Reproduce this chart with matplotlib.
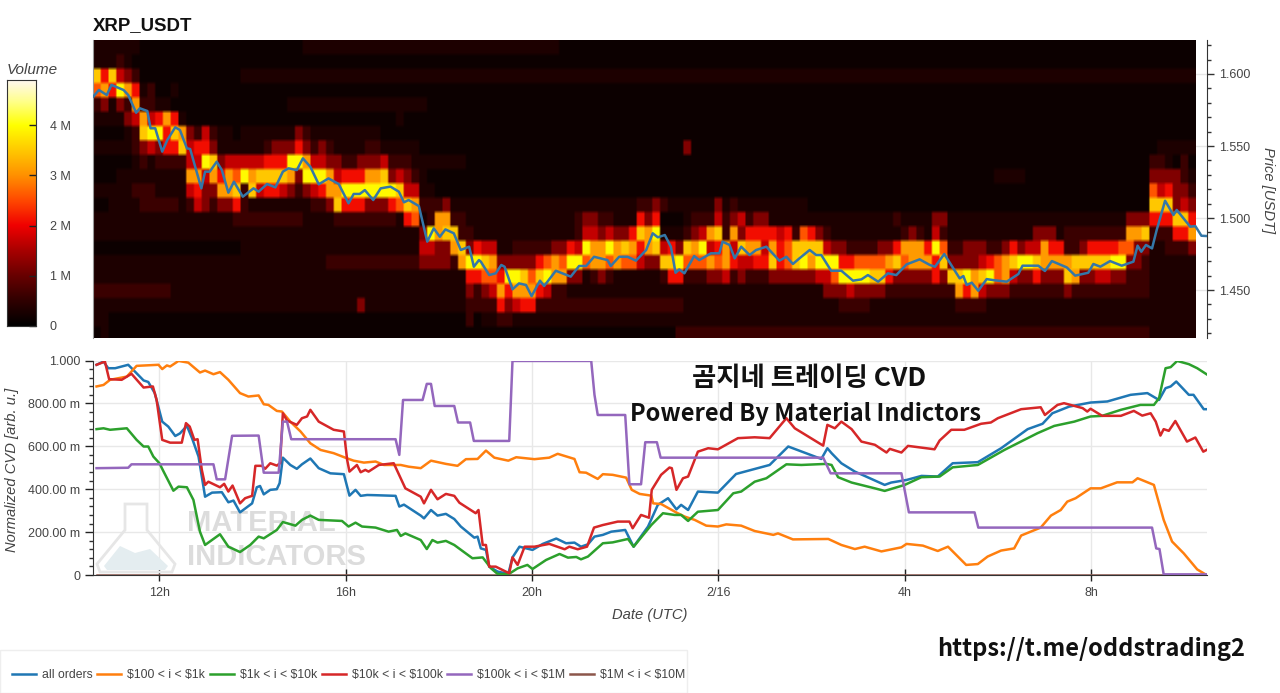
import numpy as np
import matplotlib
matplotlib.use("Agg")
import matplotlib.pyplot as plt
from matplotlib.colors import LinearSegmentedColormap
from matplotlib.patches import Polygon, Rectangle
from matplotlib.ticker import MultipleLocator
from matplotlib.transforms import IdentityTransform

# heatmap: one string per price row (top to bottom), one digit per 10 min column
# digit = volume step, missing columns at the end of a row are 0
volume_rows = [
    "1111110000 0000000000 0000000111 1111111111 1111111111 1111111111",
    "1112100000",
    "8584320000 0000000001 1111111111 1111111111 1111111111 1111111111 1111111111 1111111111 1111111111 1111111111 1111111111 1111111111 1111111111 1111111111 11",
    "6759751200 1000000000",
    "2313272211 0000000000 0000011111 1111111111 1110000000",
    "1111347457 5100000000 0000000000 0000000001",
    "0000128995 8732421101 1111113211 1111111000",
    "1111123435 5845531111 1123335323 2111122111 1100000000 0000000000 0000000000 0000003000 0000000000 0000000000 0000000000 0000000000 0000000000 0000000111 11",
    "0000012122 2244983444 4455599744 3322333422 2111111100 0000000000 0000000000 0000000000 0000000000 0000000000 0000000000 0000000000 0000000000 0000002210 20",
    "0001111111 1177475769 7888873999 7455577834 3210000000 0000000000 0000000000 0000000000 0000000000 0000000000 0000000000 0000001111 0000000000 0000003333 21",
    "1111122211 1145337782 8455432345 7799999998 4411000000 0000000000 0000000000 0000000000 0000000000 0000000000 0000000000 0000000000 0000000000 0000006453 32",
    "0011112222 2124323352 1111111122 3855533356 8722231111 1111111111 1111111111 2232111111 3121111111 1100000000 0000000000 0000000000 0000000000 0000008883 43",
    "1111111111 1111111122 2222222111 1222222221 5612772211 1111111111 1123322111 5350001222 4234233111 1111111111 1112111133 1111111111 1111111111 1113335558 85",
    "1111111111 1111111111 1111111111 1111111111 1139788221 1111111111 1124434335 8791112347 8273555545 2653211111 1111232142 1111111111 1333122222 2227782225 57",
    "0000000000 0000000001 1111111111 1111111111 1144337835 4411222223 3549779787 5784538794 5748774756 8888433222 2335777596 2233322353 4475522355 5566331122 23",
    "1111111111 1111111111 1111111111 2222222222 2233332799 8733333567 6996776766 4338896667 6754455856 8979995566 6678677758 3333456789 9877778888 8993321111 11",
    "1111111111 1111111111 1111111111 1111111111 1111111155 6659986897 7331232111 1112552223 3423222333 3334469999 8853333353 8897896743 3533387334 4332221111 11",
    "2222222222 1111111111 1111111111 1111111111 1111111132 3475777542 2111111111 1111111111 1111111111 1111333433 3322222222 2757433322 2222232222 2222221111 11",
    "1111111111 1111111111 1111111111 1111311111 1111111122 2253455222 2222222222 2222221111 1111111111 1111112222 1111111111 1222211111 1111111111 1111111111 11",
    "1100000000 0000000000 0000000000 0000000000 0000000020 1122111111 1111111111 1111111111 1111111111 1111111111 1111111111 1111111111 1111111111 1111111111 11",
    "0100000000 0000000000 0000000000 0000000000 0000000000 0000000000 0000000000 0000022222 2222222222 2222222222 2222222222 2222222222 2222222222 2222221111 11",
]
# volume in M for each digit of volume_rows
volume_steps = [0.14, 0.32, 0.6, 1.2, 1.7, 2.1, 2.6, 3.1, 3.5, 3.95]

# hours since 2/15 00:00
price_t = [10.58, 10.70, 10.87, 10.97, 11.23, 11.33, 11.50, 11.58, 11.74, 11.81, 11.91, 12.06, 12.17, 12.34, 12.44, 12.59, 12.66, 12.90, 12.98, 13.08,
           13.23, 13.34, 13.48, 13.60, 13.79, 14.02, 14.13, 14.31, 14.49, 14.65, 14.77, 14.95, 15.08, 15.24, 15.42, 15.63, 15.85, 16.06, 16.17, 16.30,
           16.41, 16.59, 16.75, 16.96, 17.14, 17.25, 17.35, 17.57, 17.75, 17.89, 18.02, 18.14, 18.32, 18.47, 18.65, 18.75, 18.86, 18.90, 19.08, 19.22,
           19.34, 19.41, 19.58, 19.72, 19.87, 19.99, 20.17, 20.26, 20.51, 20.83, 21.01, 21.16, 21.33, 21.62, 21.69, 21.87, 22.05, 22.23, 22.45, 22.59,
           22.70, 22.85, 22.98, 23.08, 23.16, 23.27, 23.48, 23.59, 23.84, 24.02, 24.09, 24.24, 24.35, 24.49, 24.67, 24.81, 25.03, 25.31, 25.46, 25.60,
           25.74, 25.96, 26.10, 26.21, 26.42, 26.64, 26.89, 27.07, 27.21, 27.43, 27.64, 27.82, 28.04, 28.32, 28.54, 28.65, 28.85, 29.18, 29.26, 29.33,
           29.44, 29.58, 29.76, 29.90, 30.19, 30.44, 30.53, 30.87, 31.01, 31.16, 31.48, 31.66, 31.94, 32.05, 32.20, 32.41, 32.66, 32.91, 33.00, 33.08,
           33.18, 33.31, 33.41, 33.59, 33.77, 33.84, 34.13, 34.24, 34.37, 34.48]
price_v = [1.5843, 1.5889, 1.5854, 1.5924, 1.5889, 1.5854, 1.5731, 1.5762, 1.5743, 1.5623, 1.5623, 1.5461, 1.5542, 1.5630, 1.5611, 1.5484, 1.5479, 1.5206, 1.5322, 1.5322,
           1.5391, 1.5333, 1.5176, 1.5252, 1.5148, 1.5206, 1.5183, 1.5236, 1.5213, 1.5322, 1.5345, 1.5333, 1.5414, 1.5356, 1.5234, 1.5275, 1.5236, 1.5102, 1.5167, 1.5167,
           1.5194, 1.5125, 1.5206, 1.5218, 1.5183, 1.5109, 1.5125, 1.5083, 1.4836, 1.4928, 1.4870, 1.4921, 1.4894, 1.4778, 1.4801, 1.4662, 1.4708, 1.4697, 1.4604, 1.4616,
           1.4674, 1.4662, 1.4505, 1.4546, 1.4535, 1.4458, 1.4565, 1.4528, 1.4634, 1.4593, 1.4667, 1.4667, 1.4731, 1.4708, 1.4667, 1.4731, 1.4731, 1.4704, 1.4778, 1.4894,
           1.4866, 1.4882, 1.4801, 1.4620, 1.4643, 1.4616, 1.4736, 1.4708, 1.4755, 1.4755, 1.4836, 1.4813, 1.4720, 1.4801, 1.4743, 1.4778, 1.4801, 1.4704, 1.4731, 1.4681,
           1.4720, 1.4778, 1.4743, 1.4743, 1.4634, 1.4634, 1.4565, 1.4574, 1.4604, 1.4558, 1.4616, 1.4604, 1.4678, 1.4713, 1.4674, 1.4662, 1.4750, 1.4581, 1.4597, 1.4535,
           1.4551, 1.4495, 1.4576, 1.4569, 1.4558, 1.4611, 1.4669, 1.4669, 1.4632, 1.4701, 1.4657, 1.4600, 1.4620, 1.4681, 1.4662, 1.4701, 1.4669, 1.4697, 1.4808, 1.4766,
           1.4813, 1.4789, 1.4917, 1.5120, 1.5021, 1.5056, 1.4940, 1.4944, 1.4877, 1.4875]

all_t = [10.65, 10.80, 10.90, 11.05, 11.33, 11.44, 11.66, 11.76, 11.90, 12.06, 12.19, 12.34, 12.44, 12.59, 12.70, 12.84, 12.98, 13.13, 13.34, 13.48,
         13.59, 13.73, 13.99, 14.09, 14.16, 14.24, 14.38, 14.52, 14.58, 14.65, 14.81, 14.95, 15.06, 15.24, 15.42, 15.67, 15.96, 16.08, 16.21, 16.32,
         16.46, 16.64, 17.07, 17.15, 17.25, 17.61, 17.68, 17.83, 17.97, 18.15, 18.33, 18.47, 18.76, 18.83, 18.90, 19.01, 19.08, 19.26, 19.49, 19.58,
         19.73, 20.01, 20.23, 20.52, 20.73, 20.91, 21.05, 21.20, 21.34, 21.52, 21.70, 22.00, 22.18, 22.49, 22.70, 22.92, 23.10, 23.20, 23.35, 23.56,
         23.99, 24.38, 25.10, 25.50, 26.21, 26.34, 26.43, 26.64, 26.93, 27.14, 27.57, 27.71, 28.04, 28.36, 28.71, 29.03, 29.57, 30.07, 30.64, 30.96,
         31.17, 31.53, 31.99, 32.35, 32.85, 33.21, 33.46, 33.60, 33.71, 33.83, 34.10, 34.20, 34.42, 34.48]
all_v = [.98, .995, .964, .964, .98, .956, .907, .90, .848, .715, .692, .648, .66, .695, .638, .552, .365, .384, .386, .339,
         .347, .292, .334, .409, .415, .376, .397, .40, .428, .547, .513, .495, .516, .543, .498, .474, .47, .37, .397, .369,
         .373, .372, .369, .319, .328, .277, .264, .303, .277, .285, .261, .226, .174, .179, .124, .117, .039, .016, .005, .082,
         .132, .117, .145, .17, .148, .151, .132, .143, .179, .187, .202, .21, .132, .226, .327, .358, .306, .327, .303, .389,
         .384, .471, .513, .599, .541, .591, .568, .521, .482, .462, .42, .431, .443, .462, .459, .521, .526, .591, .68, .705,
         .754, .785, .804, .809, .84, .848, .816, .871, .879, .902, .84, .84, .773, .773]

o_t = [10.65, 10.80, 10.94, 11.30, 11.51, 11.98, 12.06, 12.16, 12.23, 12.41, 12.62, 12.87, 12.98, 13.16, 13.30, 13.48, 13.73, 13.91, 14.13, 14.24,
       14.34, 14.52, 14.63, 14.81, 15.03, 15.24, 15.46, 15.74, 15.99, 16.17, 16.39, 16.64, 16.82, 17.18, 17.35, 17.61, 17.83, 18.15, 18.40, 18.58,
       18.83, 19.01, 19.19, 19.49, 19.66, 20.05, 20.37, 20.55, 20.91, 21.02, 21.16, 21.41, 21.52, 21.73, 22.02, 22.14, 22.31, 22.56, 22.60, 22.77,
       23.10, 23.28, 23.49, 23.74, 23.99, 24.17, 24.49, 24.78, 25.18, 25.28, 25.60, 26.36, 26.64, 26.93, 27.14, 27.50, 27.93, 28.04, 28.39, 28.71,
       28.93, 29.32, 29.57, 29.78, 30.07, 30.35, 30.50, 30.92, 31.14, 31.35, 31.49, 31.67, 31.99, 32.21, 32.56, 32.89, 33.00, 33.35, 33.56, 33.74,
       33.99, 34.28, 34.48]
o_v = [.879, .886, .91, .925, .975, .98, .96, .977, .972, .998, .99, .944, .953, .936, .946, .91, .848, .832, .837, .796,
       .793, .765, .762, .715, .669, .614, .583, .568, .547, .533, .524, .529, .513, .513, .505, .498, .533, .518, .509, .54,
       .541, .58, .547, .533, .549, .54, .547, .565, .541, .479, .477, .448, .47, .467, .454, .397, .378, .37, .334, .331,
       .291, .272, .257, .23, .226, .236, .23, .205, .187, .194, .166, .168, .14, .121, .132, .11, .129, .145, .137, .112,
       .132, .047, .051, .086, .114, .124, .184, .221, .277, .303, .342, .358, .404, .404, .432, .432, .451, .42, .257, .156,
       .101, .026, 0]

g_t = [10.65, 10.80, 10.94, 11.30, 11.51, 11.66, 11.76, 11.87, 12.00, 12.09, 12.30, 12.41, 12.59, 12.73, 12.87, 12.98, 13.30, 13.48, 13.73, 13.95,
       14.13, 14.24, 14.52, 14.65, 14.92, 15.06, 15.24, 15.42, 15.92, 16.06, 16.21, 16.35, 16.64, 16.92, 17.10, 17.18, 17.28, 17.61, 17.74, 17.86,
       17.97, 18.15, 18.33, 18.72, 18.94, 19.12, 19.26, 19.49, 19.69, 19.90, 20.01, 20.30, 20.59, 20.77, 20.95, 21.05, 21.20, 21.52, 21.73, 22.06,
       22.18, 22.56, 22.81, 23.06, 23.20, 23.35, 23.56, 23.99, 24.32, 24.49, 24.78, 25.03, 25.46, 25.78, 26.32, 26.43, 26.57, 26.86, 27.36, 27.57,
       28.00, 28.36, 28.75, 29.03, 29.57, 30.14, 30.85, 31.21, 31.64, 31.99, 32.24, 32.64, 33.06, 33.35, 33.46, 33.60, 33.71, 33.85, 34.10, 34.28,
       34.48]
g_v = [.68, .684, .677, .684, .63, .599, .599, .552, .521, .482, .393, .412, .409, .35, .202, .14, .19, .132, .107, .14,
       .179, .171, .21, .247, .23, .257, .277, .257, .252, .226, .244, .226, .221, .202, .21, .182, .194, .163, .121, .163,
       .151, .159, .14, .078, .082, .031, .005, .003, .031, .047, .028, .07, .098, .081, .084, .073, .086, .148, .152, .168,
       .132, .233, .288, .28, .28, .252, .295, .303, .381, .389, .435, .451, .516, .513, .518, .513, .456, .431, .404, .392,
       .42, .456, .459, .502, .513, .583, .661, .695, .715, .739, .742, .77, .793, .793, .824, .964, .969, .998, .983, .964,
       .936]

r_t = [10.65, 10.83, 10.92, 11.19, 11.40, 11.66, 11.86, 11.94, 12.06, 12.23, 12.48, 12.57, 12.65, 12.75, 12.82, 12.91, 12.98, 13.05, 13.30, 13.39,
       13.48, 13.57, 13.73, 13.84, 13.99, 14.06, 14.20, 14.27, 14.38, 14.52, 14.59, 14.65, 14.74, 14.95, 15.06, 15.17, 15.24, 15.42, 15.74, 15.96,
       16.03, 16.08, 16.24, 16.32, 16.42, 16.49, 16.71, 17.03, 17.18, 17.28, 17.61, 17.68, 17.83, 17.97, 18.15, 18.33, 18.44, 18.79, 18.85, 18.94,
       19.01, 19.08, 19.22, 19.51, 19.58, 19.69, 19.84, 20.05, 20.37, 20.70, 20.80, 20.98, 21.18, 21.33, 21.52, 21.84, 22.09, 22.16, 22.34, 22.51,
       22.57, 22.77, 22.95, 23.00, 23.10, 23.24, 23.35, 23.56, 23.78, 23.99, 24.42, 24.78, 25.10, 25.46, 25.64, 26.25, 26.34, 26.50, 26.64, 26.86,
       27.07, 27.36, 27.61, 27.68, 27.93, 28.07, 28.64, 28.75, 29.00, 29.28, 29.64, 29.85, 30.00, 30.50, 30.92, 31.01, 31.28, 31.42, 31.82, 31.92,
       31.99, 32.24, 32.64, 32.92, 33.10, 33.28, 33.39, 33.49, 33.56, 33.67, 33.81, 34.06, 34.24, 34.41, 34.48]
r_v = [.98, .995, .913, .91, .938, .874, .879, .816, .63, .617, .617, .708, .692, .63, .633, .49, .42, .435, .409, .425,
       .389, .417, .334, .358, .369, .509, .509, .495, .521, .51, .521, .754, .72, .70, .731, .739, .77, .715, .677, .669,
       .537, .482, .513, .479, .49, .482, .513, .521, .451, .404, .365, .334, .397, .353, .378, .369, .337, .288, .303, .14,
       .14, .039, .039, .008, .082, .047, .132, .132, .145, .12, .132, .12, .132, .221, .233, .249, .249, .218, .28, .267,
       .397, .467, .501, .498, .397, .451, .459, .575, .591, .586, .638, .642, .638, .731, .684, .603, .70, .684, .715, .68,
       .622, .607, .571, .588, .571, .602, .586, .627, .677, .677, .705, .711, .731, .773, .782, .746, .793, .801, .778, .762,
       .775, .742, .742, .765, .743, .754, .715, .65, .68, .672, .718, .622, .641, .575, .583]

p_t = [10.65, 11.33, 11.40, 13.16, 13.23, 13.41, 13.56, 14.13, 14.24, 14.56, 14.65, 14.74, 14.83, 17.07, 17.15, 17.23, 17.65, 17.74, 17.83, 17.91,
       18.33, 18.41, 18.67, 18.75, 19.51, 19.58, 21.27, 21.34, 21.41, 22.00, 22.09, 22.34, 22.43, 22.68, 22.76, 26.25, 26.41, 27.93, 28.09, 29.50,
       29.58, 33.31, 33.40, 33.47, 33.56, 34.48]
p_v = [.498, .50, .516, .516, .446, .446, .649, .65, .477, .477, .715, .715, .633, .633, .56, .816, .816, .891, .891, .788,
       .788, .711, .711, .625, .625, .998, .998, .84, .746, .746, .423, .423, .619, .619, .547, .547, .474, .474, .292, .292,
       .221, .221, .124, .121, .003, .003]

b_t = [10.65, 34.48]
b_v = [0, 0]

series_names = ["all orders", r"\$100 < i < \$1k", r"\$1k < i < \$10k", r"\$10k < i < \$100k", r"\$100k < i < \$1M", r"\$1M < i < \$10M"]
series_colors = ["#1f77b4", "#ff7f0e", "#2ca02c", "#d62728", "#9467bd", "#8c564b"]
date_ticks = [12, 16, 20, 24, 28, 32]
date_labels = ["12h", "16h", "20h", "2/16", "4h", "8h"]

W, H = 1280, 693
plt.rcParams["font.family"] = ["Liberation Sans", "DejaVu Sans"]
GREY = "#444444"
CJK = ["Noto Sans CJK KR", "DejaVu Sans"]

def box(left, top, right, bottom):
    return [left / W, 1 - bottom / H, (right - left) / W, (bottom - top) / H]

cmap = LinearSegmentedColormap.from_list("vol", [
    (0.0, "#000000"), (0.5 / 4.9, "#300000"), (1.0 / 4.9, "#680000"), (1.5 / 4.9, "#a80000"),
    (2.0 / 4.9, "#f00000"), (2.5 / 4.9, "#ff4800"), (3.0 / 4.9, "#ff9000"), (3.5 / 4.9, "#ffc800"),
    (4.0 / 4.9, "#ffff00"), (4.5 / 4.9, "#ffff90"), (1.0, "#fff8f0")])

fig = plt.figure(figsize=(W / 100, H / 100), dpi=100)

# price heatmap
ax = fig.add_axes(box(93, 40, 1207, 338))
digits = [r.replace(" ", "").ljust(142, "0") for r in volume_rows]
grid = np.array([[volume_steps[int(c)] for c in r] for r in digits]) * 1e6
# repeat the cells so bilinear only softens their edges
soft = np.repeat(np.repeat(grid, 4, axis=0), 4, axis=1)
ax.grid(True, axis="y", color="#e6e6e6", lw=1)
ax.set_axisbelow(True)
ax.imshow(soft, cmap=cmap, vmin=0, vmax=4.9e6, aspect="auto", interpolation="bilinear",
          extent=[10.574, 10.574 + 142 / 6, 1.6236 - 0.00995 * 21, 1.6236], zorder=1.5)
ax.plot(price_t, price_v, color="#3477a8", lw=1.8, zorder=3)
ax.set_xlim(10.574, 34.49)
ax.set_ylim(1.4167, 1.6236)
ax.xaxis.set_visible(False)
ax.yaxis.tick_right()
ax.yaxis.set_label_position("right")
ax.yaxis.set_major_locator(MultipleLocator(0.05))
ax.yaxis.set_minor_locator(MultipleLocator(0.01))
ax.yaxis.set_major_formatter(lambda v, pos: f"{v:.3f}")
ax.tick_params(axis="y", which="major", length=5, width=1, color="#333333", labelcolor=GREY, labelsize=9, pad=4)
ax.tick_params(axis="y", which="minor", length=3, width=1, color="#333333")
for s in ["top", "bottom"]:
    ax.spines[s].set_visible(False)
ax.spines["left"].set_color("#999999")
ax.spines["right"].set_color("#333333")
fig.text(1268 / W, 1 - 190 / H, "Price [USDT]", rotation=270, style="italic", color=GREY, fontsize=10.6, ha="center", va="center")
fig.text(93 / W, 1 - 25.5 / H, "XRP_USDT", fontweight="bold", fontsize=13.4, color="#111111", ha="left", va="center")

# colorbar
cax = fig.add_axes(box(7, 80, 36, 326))
gradient = np.linspace(4.9e6, 0, 256).reshape(-1, 1)
cax.imshow(gradient, cmap=cmap, vmin=0, vmax=4.9e6, aspect="auto", extent=[0, 1, 0, 4.9e6])
cax.set_xticks([])
cax.yaxis.tick_right()
cax.set_yticks([0, 1e6, 2e6, 3e6, 4e6], ["0", "1 M", "2 M", "3 M", "4 M"])
cax.tick_params(axis="y", direction="in", length=5, width=1, color="#222222", labelcolor=GREY, labelsize=9, pad=10)
for s in cax.spines.values():
    s.set_color("#333333")
fig.text(7 / W, 1 - 70.5 / H, "Volume", style="italic", color=GREY, fontsize=11, ha="left", va="center")

# CVD lines
ax2 = fig.add_axes(box(93, 360.5, 1207, 575))
ax2.grid(True, color="#e8e8e8", lw=1)
ax2.set_axisbelow(True)

# watermark behind the lines, flask in pixels
flask = [(125, 504), (147, 504), (147, 530), (175, 564), (172, 572), (100, 572), (97, 564), (125, 530)]
hill = [(104, 566), (120, 546), (135, 553), (150, 549), (168, 566), (165, 570), (107, 570)]
ax2.add_patch(Polygon([(x, H - y) for x, y in flask], closed=True, fc="none", ec="#e6e6e6", lw=2,
                      transform=IdentityTransform(), zorder=0.8))
ax2.add_patch(Polygon([(x, H - y) for x, y in hill], closed=True, fc="#e4edf0", ec="none",
                      transform=IdentityTransform(), zorder=0.8))
ax2.text(187 / W, 1 - 523 / H, "MATERIAL", fontweight="bold", fontsize=21, color="#dcdcdc", ha="left", va="center",
         transform=fig.transFigure, zorder=0.8)
ax2.text(187 / W, 1 - 557 / H, "INDICATORS", fontweight="bold", fontsize=21, color="#dcdcdc", ha="left", va="center",
         transform=fig.transFigure, zorder=0.8)

line_data = [(all_t, all_v), (o_t, o_v), (g_t, g_v), (r_t, r_v), (p_t, p_v)]
for (t, v), name, col in zip(line_data, series_names, series_colors):
    ax2.plot(t, v, color=col, lw=1.8, label=name, zorder=3)
# the largest size class stays flat on the axis line
ax2.plot(b_t, b_v, color=series_colors[5], lw=1.8, label=series_names[5], zorder=1.5, clip_on=True, alpha=0.35)
ax2.set_xlim(10.574, 34.49)
ax2.set_ylim(0, 1)
ax2.set_xticks(date_ticks, date_labels)
ax2.yaxis.set_minor_locator(MultipleLocator(0.04))
ax2.set_yticks([0, .2, .4, .6, .8, 1], ["0", "200.00 m", "400.00 m", "600.00 m", "800.00 m", "1.000"])
ax2.tick_params(axis="x", which="major", direction="inout", length=8, width=1, color="#222222", labelcolor=GREY, labelsize=9, pad=5)
ax2.tick_params(axis="y", which="major", length=6, width=1, color="#222222", labelcolor=GREY, labelsize=9, pad=3)
ax2.tick_params(axis="y", which="minor", length=3, width=1, color="#333333")
for s in ["top", "right"]:
    ax2.spines[s].set_visible(False)
for s in ["left", "bottom"]:
    ax2.spines[s].set_color("#333333")
fig.text(12 / W, 1 - 470 / H, "Normalized CVD [arb. u.]", rotation=90, style="italic", color=GREY, fontsize=10.6, ha="center", va="center")
fig.text(650 / W, 1 - 615 / H, "Date (UTC)", style="italic", color=GREY, fontsize=10.6, ha="center", va="center")

# overlay captions
fig.text(809 / W, 1 - 379 / H, "곰지네 트레이딩 CVD", family=CJK, fontweight="bold", fontsize=19, color="#111111", ha="center", va="center", zorder=5)
fig.text(806 / W, 1 - 414 / H, "Powered By Material Indictors", family=CJK, fontweight="bold", fontsize=17, color="#111111", ha="center", va="center", zorder=5)
fig.text(1091 / W, 1 - 649 / H, "https://t.me/oddstrading2", family=CJK, fontweight="bold", fontsize=17, color="#111111", ha="center", va="center", zorder=5)

# legend frame and legend
fig.add_artist(Rectangle((0, 0), 687 / W, 43 / H, transform=fig.transFigure, fc="white", ec="#eeeeee", lw=1))
handles, labels = ax2.get_legend_handles_labels()
handles[5].set_alpha(1)
fig.legend(handles, labels, ncols=6, loc="lower left", bbox_to_anchor=(0, 0), bbox_transform=fig.transFigure,
           fontsize=8.85, frameon=False, labelcolor=GREY,
           handlelength=1.95, handletextpad=0.5, columnspacing=0.37, borderpad=0.95, borderaxespad=0)

fig.savefig("out.png", dpi=100)
